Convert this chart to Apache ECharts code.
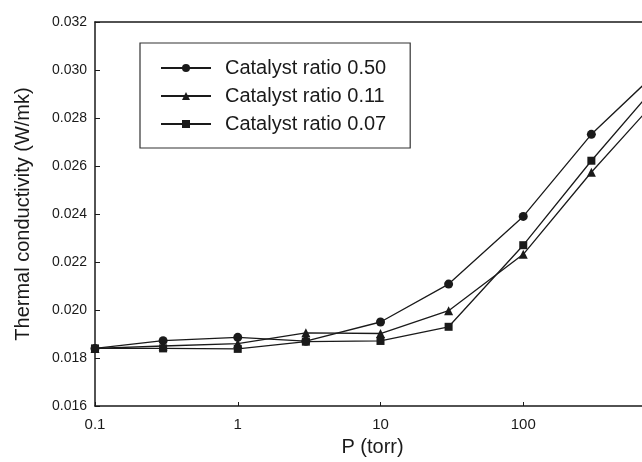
<!DOCTYPE html>
<html>
<head>
    <meta charset="utf-8">
    <title>Thermal conductivity vs pressure</title>
    <style>
        html, body { margin: 0; background: #fff; overflow: hidden; }
        #chart_main { width: 642px; height: 462px; }
    </style>
</head>
<body>
    <div id="chart_main"></div>
    <script src="https://cdn.jsdelivr.net/npm/echarts@6/dist/echarts.min.js"></script>
    <script>
        // pressure points (torr)
        var pressures = [0.1, 0.3, 1, 3, 10, 30, 100, 300, 760];
        // thermal conductivity (W/mk)
        var ratio050 = [0.0184, 0.01872, 0.01886, 0.0187, 0.0195, 0.02108, 0.0239, 0.02732, 0.0296];
        var ratio011 = [0.0184, 0.0185, 0.0186, 0.01905, 0.01902, 0.01997, 0.02232, 0.02574, 0.0284];
        var ratio007 = [0.0184, 0.0184, 0.01838, 0.01868, 0.01871, 0.0193, 0.0227, 0.02622, 0.0290];
        var seriesNames = ['Catalyst ratio 0.50', 'Catalyst ratio 0.11', 'Catalyst ratio 0.07'];
        var xTickLabels = ['0.1', '1', '10', '100'];

        var font = '"Liberation Sans", Arial, sans-serif';
        var ink = '#1a1a1a';
        // the scanned plot is cut at the right edge, a little past 100 torr
        var xMin = 0.1, xMax = 679;

        function pairs(ys) {
            var out = [];
            for (var i = 0; i < pressures.length; i++) {
                out.push([pressures[i], ys[i]]);
            }
            return out;
        }

        function makeSeries(name, ys, symbol, size) {
            return {
                name: name,
                type: 'line',
                xAxisIndex: 0,
                data: pairs(ys),
                symbol: symbol,
                symbolSize: size,
                showSymbol: true,
                clip: true,
                lineStyle: { color: ink, width: 1.3 },
                itemStyle: { color: ink, borderWidth: 0 },
                emphasis: { disabled: true },
                z: 3
            };
        }

        var myChart = echarts.init(document.getElementById('chart_main'));

        var option = {
            animation: false,
            backgroundColor: '#fff',
            grid: {
                left: 95, top: 22, right: 0, bottom: 52,
                containLabel: false
            },
            legend: {
                left: 140, top: 43,
                orient: 'vertical',
                data: seriesNames,
                itemWidth: 50, itemHeight: 10,
                itemGap: 8,
                padding: [15, 24, 14, 20],
                borderColor: '#333', borderWidth: 1.2,
                textStyle: {
                    fontFamily: font, fontSize: 20, color: ink,
                    lineHeight: 20, padding: [0, 0, 0, 9]
                },
                selectedMode: false
            },
            xAxis: [{
                type: 'log',
                logBase: 10,
                min: xMin, max: xMax,
                name: 'P (torr)',
                nameLocation: 'middle',
                nameGap: 31,
                nameTextStyle: { fontFamily: font, fontSize: 20, color: ink, padding: [0, 0, 0, 8] },
                axisLine: { lineStyle: { color: ink, width: 1.5 } },
                axisTick: { show: true, inside: true, length: 4, lineStyle: { color: ink } },
                axisLabel: {
                    fontFamily: font, fontSize: 15, color: ink, margin: 11,
                    showMaxLabel: false,
                    formatter: function (v) {
                        var e = Math.log10(v);
                        if (Math.abs(e - Math.round(e)) > 1e-6) { return ''; }
                        return xTickLabels[Math.round(e) + 1] || '';
                    }
                },
                splitLine: { show: false }
            }, {
                // top frame line only
                type: 'log',
                logBase: 10,
                position: 'top',
                min: xMin, max: xMax,
                axisLine: { show: true, lineStyle: { color: ink, width: 1.5 } },
                axisTick: { show: false },
                axisLabel: { show: false },
                splitLine: { show: false }
            }],
            yAxis: {
                type: 'value',
                min: 0.016, max: 0.032, interval: 0.002,
                name: 'Thermal conductivity (W/mk)',
                nameLocation: 'middle',
                nameRotate: 90,
                nameGap: 62,
                nameTextStyle: { fontFamily: font, fontSize: 20, color: ink },
                axisLine: { show: true, lineStyle: { color: ink, width: 1.5 } },
                axisTick: { show: true, inside: true, length: 5, lineStyle: { color: ink } },
                axisLabel: {
                    fontFamily: font, fontSize: 14, color: ink, margin: 8,
                    formatter: function (v) { return v.toFixed(3); }
                },
                splitLine: { show: false }
            },
            series: [
                makeSeries(seriesNames[0], ratio050, 'circle', 9),
                makeSeries(seriesNames[1], ratio011, 'triangle', 9),
                makeSeries(seriesNames[2], ratio007, 'rect', 8)
            ]
        };

        myChart.setOption(option);
    </script>
</body>
</html>
